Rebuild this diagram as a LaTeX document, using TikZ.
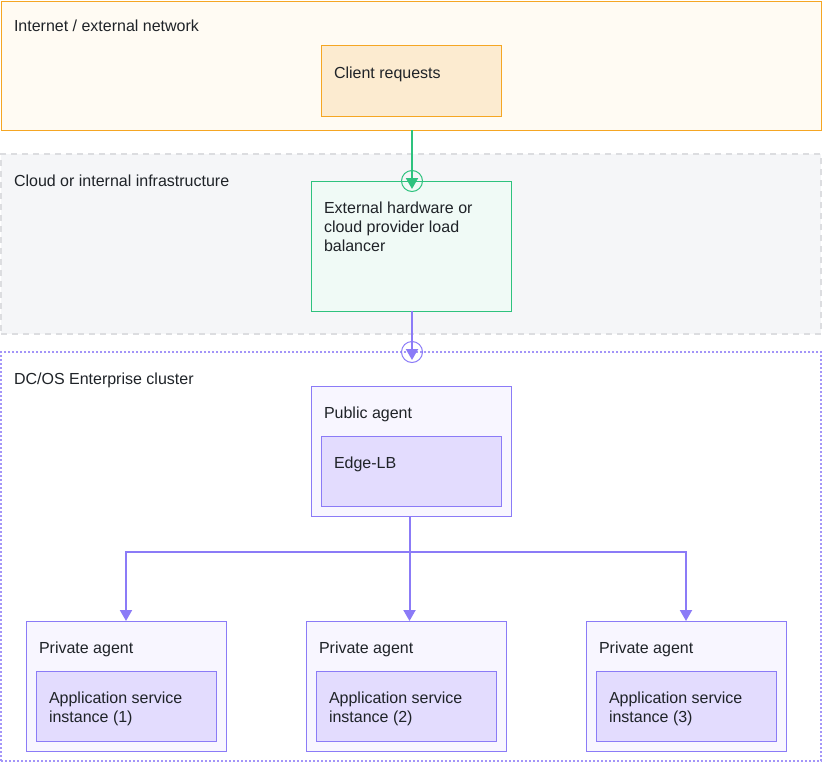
\documentclass[tikz,border=0pt]{standalone}
\usepackage{fontspec}
\setmainfont{Liberation Sans}
\usetikzlibrary{arrows.meta}
\definecolor{orangeB}{HTML}{F5A623}
\definecolor{orangeF}{HTML}{FFFBF3}
\definecolor{clientF}{HTML}{FCEBD0}
\definecolor{grayB}{HTML}{DCDDE0}
\definecolor{grayF}{HTML}{F5F6F8}
\definecolor{greenB}{HTML}{2EC27E}
\definecolor{greenF}{HTML}{F0FAF6}
\definecolor{purpB}{HTML}{8B7BF7}
\definecolor{purpL}{HTML}{A395F8}
\definecolor{agentF}{HTML}{F8F6FF}
\definecolor{innerF}{HTML}{E3DCFE}
\definecolor{txt}{HTML}{1F2328}
\tikzset{
  x=1pt, y=-1pt,
  box/.style={rectangle, inner sep=0pt, outer sep=0pt, anchor=north west, line width=1pt},
  lbl/.style={inner sep=0pt, outer sep=0pt, anchor=base west, text=txt, font=\fontsize{16}{19}\selectfont, align=left},
  purparrow/.style={draw=purpB, line width=2pt, -{Triangle[length=11pt,width=12pt]}},
  greenarrow/.style={draw=greenB, line width=2pt, -{Triangle[length=11pt,width=12pt]}},
}
\begin{document}
\begin{tikzpicture}
\useasboundingbox (0,0) rectangle (822,763);
% containers
\node[box, draw=orangeB, fill=orangeF, minimum width=820pt, minimum height=129pt] (inet) at (1,1) {};
\node[box, draw=grayB, fill=grayF, dash pattern=on 6pt off 5pt, line width=1.6pt, minimum width=820pt, minimum height=180pt] (cloud) at (1,154) {};
\node[box, draw=purpL, fill=white, dash pattern=on 2pt off 2pt, line width=1.2pt, minimum width=820pt, minimum height=409pt] (dcos) at (1,352) {};
\node[lbl] (inetl) at (14,31) {Internet / external network};
\node[lbl] (cloudl) at (14,186) {Cloud or internal infrastructure};
\node[lbl] (dcosl) at (14,384) {DC/OS Enterprise cluster};
% client
\node[box, draw=orangeB, fill=clientF, minimum width=180pt, minimum height=71pt] (cr) at (321,45) {};
\node[lbl] (crl) at (334,78) {Client requests};
% LB
\node[box, draw=greenB, fill=greenF, minimum width=200pt, minimum height=130pt] (lb) at (311,181) {};
\node[lbl] (lbl1) at (324,251) {External hardware or\\cloud provider load\\balancer};
% public agent
\node[box, draw=purpB, fill=agentF, minimum width=200pt, minimum height=130pt] (pa) at (311,386) {};
\node[lbl] (pal) at (324,418) {Public agent};
\node[box, draw=purpB, fill=innerF, minimum width=180pt, minimum height=70pt] (elb) at (321,436) {};
\node[lbl] (elbl) at (334,468) {Edge-LB};
% private agents
\foreach \i/\x in {1/26, 2/306, 3/586}{
  \node[box, draw=purpB, fill=agentF, minimum width=200pt, minimum height=130pt] (pv\i) at (\x,621) {};
  \node[lbl] (pvl\i) at (\x+13,653) {Private agent};
  \node[box, draw=purpB, fill=innerF, minimum width=180pt, minimum height=70pt] (app\i) at (\x+10,671) {};
  \node[lbl] (appl\i) at (\x+23,722) {Application service\\instance (\i)};
}
% connectors
\coordinate (gEnd) at (412,189);
\coordinate (pEnd) at (412,360);
\draw[greenarrow] (inet.south -| gEnd) -- (gEnd);
\draw[greenB, line width=1pt] (lb.north -| gEnd) circle (10.5pt);
\draw[purparrow] (lb.south -| pEnd) -- (pEnd);
\draw[purpB, line width=1pt] (dcos.north -| pEnd) circle (10.5pt);
\coordinate (split) at (409.5,551.5);
\draw[purparrow] (pa.south -| split) -- (split) -| (pv1.north);
\draw[purparrow] (split) -| (pv3.north);
\draw[purparrow] (split) -- (pv2.north -| split);
\end{tikzpicture}
\end{document}
